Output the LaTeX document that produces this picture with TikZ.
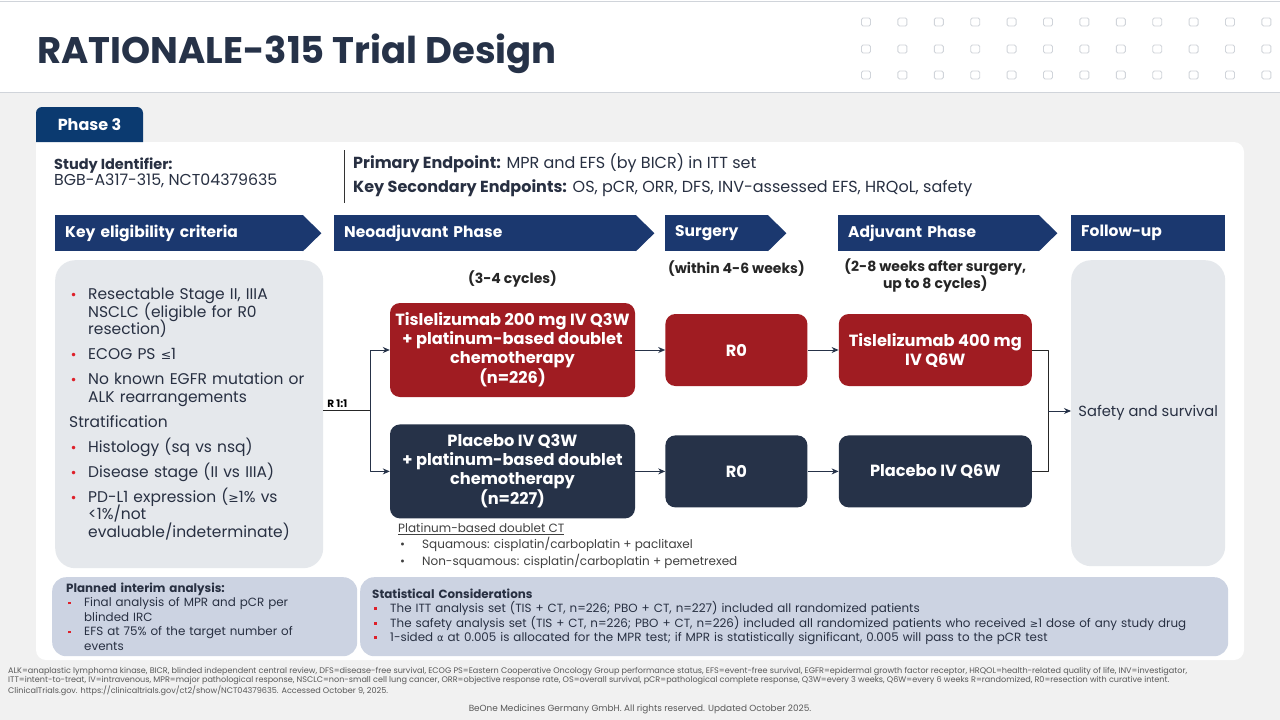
\documentclass[tikz,border=0pt]{standalone}
\usepackage{fontspec}
\setmainfont{Poppins}
\newfontfamily\symfont{DejaVu Sans}
\usetikzlibrary{arrows.meta, positioning, calc, backgrounds}
\definecolor{trialNavy}{RGB}{38,50,72}
\definecolor{trialHead}{RGB}{27,56,111}
\definecolor{trialTab}{RGB}{11,58,112}
\definecolor{trialRed}{RGB}{160,28,34}
\definecolor{trialGrayBg}{RGB}{229,232,236}
\definecolor{trialSlateBg}{RGB}{204,211,226}
\definecolor{trialPageBg}{RGB}{241,241,241}
\definecolor{trialLine}{RGB}{208,212,218}
\definecolor{trialBullet}{RGB}{222,32,42}
\definecolor{trialText}{RGB}{40,48,66}
\definecolor{trialFoot}{RGB}{88,88,88}
\newcommand{\fsize}[2]{\fontsize{#1}{#2}\selectfont}
\newcommand{\tightlines}{\lineskiplimit=-20pt\lineskip=0pt}
\newcommand{\critdot}{\makebox[19pt][l]{\hspace{1pt}\textcolor{trialBullet}{\symfont\fsize{12}{12}•}}}
\newcommand{\critgap}{\hspace*{19pt}}
\newcommand{\statsq}{\makebox[18pt][l]{\hspace{2pt}\textcolor{trialBullet}{\rule[2.6pt]{2.8pt}{2.8pt}}}}
\newcommand{\statgap}{\hspace*{18pt}}
\tikzset{
    design/.style={x=1pt, y=-1pt, >={Stealth[length=7pt, width=6pt]},
                   line join=round, text=trialText},
    title/.style={font=\bfseries\fsize{37}{42}, text=trialNavy, inner sep=0pt},
    tablabel/.style={font=\bfseries\fsize{16}{18}, text=white, inner sep=0pt},
    phasehead/.style={fill=trialHead, text=white, font=\bfseries\fsize{15.5}{18},
                      minimum height=36pt, inner xsep=10pt, inner ysep=0pt,
                      anchor=north west, align=left},
    chevron/.style={phasehead, append after command={\pgfextra{
        \fill[trialHead] ([xshift=-0.6pt]\tikzlastnode.north east)
            -- ([xshift=18pt]\tikzlastnode.east)
            -- ([xshift=-0.6pt]\tikzlastnode.south east) -- cycle;}}},
    armbox/.style={rounded corners=10pt, text=white, font=\bfseries\fsize{16.2}{19},
                   align=center, inner sep=0pt},
    tisarm/.style={armbox, fill=trialRed},
    plaarm/.style={armbox, fill=trialNavy},
    softbox/.style={fill=trialGrayBg, rounded corners=20pt},
    notebox/.style={fill=trialSlateBg, rounded corners=14pt, align=left,
                    font=\fsize{11.9}{14.5}, inner xsep=14pt, inner ysep=0pt,
                    anchor=north west, minimum height=79pt},
    phasenote/.style={font=\bfseries\fsize{14}{17}, text=black!85, align=center,
                      inner sep=0pt},
    rlabel/.style={font=\bfseries\fsize{10.5}{12}, text=black, inner sep=2pt},
    link/.style={->, draw=trialNavy, line width=0.9pt},
    joint/.style={draw=black!85, line width=0.9pt},
}

\begin{document}
\begin{tikzpicture}[design]
\useasboundingbox (0,0) rectangle (1280,720);

% ─── Page and header ────────────────────────────────────────────────────
\fill[trialPageBg] (0,0) rectangle (1280,720);
\fill[white] (0,0) rectangle (1280,92);
\draw[trialLine, line width=1pt] (0,1) -- (1280,1) (0,92) -- (1280,92);
\node[title, anchor=west] (title) at (37,54) {RATIONALE-315 Trial Design};
\foreach \row in {22,49,75}
    \foreach \col in {0,...,11}
        \draw[trialLine, line width=0.9pt, rounded corners=1.5pt]
            ({861.5+36.4*\col},{\row-4}) rectangle ++(9,8);

% ─── Panel and tab ──────────────────────────────────────────────────────
\fill[white, rounded corners=10pt] (36,142) rectangle (1244,660);
\fill[white] (36,142) rectangle (56,162);
\fill[trialTab] (36,142) [rounded corners=6pt] -- (36,107) -- (143,107)
    [sharp corners] -- (143,142) -- cycle;
\node[tablabel] (phase) at (89.5,124.5) {Phase 3};

\node[anchor=west, align=left, inner sep=0pt] (studyid) at (54,173)
    {{\bfseries\fsize{14.5}{20}Study Identifier:}\\
     {\fsize{15.8}{20}BGB-A317-315, NCT04379635}};
\draw[black!80, line width=0.9pt] (344,150) -- (344,203);
\node[anchor=west, align=left, inner sep=0pt, font=\fsize{16}{24}] (endpoints) at (353,175)
    {\textbf{Primary Endpoint:} MPR and EFS (by BICR) in ITT set\\
     \textbf{Key Secondary Endpoints:} OS, pCR, ORR, DFS, INV-assessed EFS, HRQoL, safety};

% ─── Phase headers ──────────────────────────────────────────────────────
\node[chevron, text width=228pt] (hdelig) at (55,215)  {Key eligibility criteria};
\node[chevron, text width=282pt] (hdneo)  at (334,215) {Neoadjuvant Phase};
\node[chevron, text width=83pt]  (hdsurg) at (665,215) {Surgery};
\node[chevron, text width=181pt] (hdadj)  at (838,215) {Adjuvant Phase};
\node[phasehead, text width=134pt] (hdfup) at (1071,215) {Follow-up};

% ─── Eligibility ────────────────────────────────────────────────────────
\node[softbox, anchor=north west, minimum height=308pt, text width=240pt,
      inner xsep=14pt, align=left, font=\fsize{15.5}{17.5}\tightlines] (elig) at (55,260)
    {\critdot Resectable Stage II, IIIA\\
     \critgap NSCLC (eligible for R0\\
     \critgap resection)\\[7.5pt]
     \critdot ECOG PS {\symfont\fsize{12.5}{17.5}≤}1\\[7.5pt]
     \critdot No known EGFR mutation or\\
     \critgap ALK rearrangements\\[7.5pt]
     Stratification\\[7.5pt]
     \critdot Histology (sq vs nsq)\\[7.5pt]
     \critdot Disease stage (II vs IIIA)\\[7.5pt]
     \critdot PD-L1 expression ({\symfont\fsize{12.5}{17.5}≥}1\% vs\\
     \critgap <1\%/not\\
     \critgap evaluable/indeterminate)};

% ─── Treatment arms ─────────────────────────────────────────────────────
\node[tisarm, minimum width=245pt, minimum height=94pt] (tisneo) at (512.5,350)
    {Tislelizumab 200 mg IV Q3W\\+ platinum-based doublet\\chemotherapy\\(n=226)};
\node[plaarm, minimum width=245pt, minimum height=94pt, below=27pt of tisneo] (planeo)
    {Placebo IV Q3W\\+ platinum-based doublet\\chemotherapy\\(n=227)};
\node[tisarm, minimum width=142pt, minimum height=72pt, right=30pt of tisneo] (tissurg) {R0};
\node[plaarm, minimum width=142pt, minimum height=72pt, right=30pt of planeo] (plasurg) {R0};
\node[tisarm, minimum width=193pt, minimum height=72pt, right=31pt of tissurg] (tisadj)
    {Tislelizumab 400 mg\\IV Q6W};
\node[plaarm, minimum width=193pt, minimum height=72pt, right=31pt of plasurg] (plaadj)
    {Placebo IV Q6W};

\node[phasenote, above=15pt of tisneo]  (neonote)  {(3-4 cycles)};
\node[phasenote, above=37pt of tissurg] (surgnote) {(within 4-6 weeks)};
\node[phasenote, above=21pt of tisadj]  (adjnote)  {(2-8 weeks after surgery,\\up to 8 cycles)};

\node[softbox, anchor=north west, minimum width=154pt, minimum height=306pt,
      font=\fsize{14.7}{17}] (follow) at (1071,260) {Safety and survival};

% ─── Connectors ─────────────────────────────────────────────────────────
\coordinate (rsplit) at (370,410);
\draw[joint] (elig.east |- rsplit) -- node[rlabel, above, pos=0.3] {R 1:1} (rsplit);
\draw[link] (rsplit) |- (tisneo.west);
\draw[link] (rsplit) |- (planeo.west);
\draw[link] (tisneo) -- (tissurg);
\draw[link] (planeo) -- (plasurg);
\draw[link] (tissurg) -- (tisadj);
\draw[link] (plasurg) -- (plaadj);
\coordinate (merge) at (1048,411);
\draw[joint] (tisadj.east) -| (merge);
\draw[joint] (plaadj.east) -| (merge);
\draw[link] (merge) -- (follow.west |- merge);

% ─── Notes ──────────────────────────────────────────────────────────────
\node[anchor=north west, align=left, inner sep=0pt, text=black!75,
      font=\fsize{12}{16.5}] (ctnote) at (398,523)
    {\underline{Platinum-based doublet CT}\\
     \makebox[24pt][l]{\hspace{2pt}•}Squamous: cisplatin/carboplatin + paclitaxel\\
     \makebox[24pt][l]{\hspace{2pt}•}Non-squamous: cisplatin/carboplatin + pemetrexed};

\node[notebox, text width=277pt] (interim) at (52,577)
    {\textbf{Planned interim analysis:}\\
     \statsq Final analysis of MPR and pCR per\\
     \statgap blinded IRC\\
     \statsq EFS at 75\% of the target number of\\
     \statgap events};
\node[notebox, text width=844pt, inner xsep=12pt] (stats) at (360,577)
    {\textbf{Statistical Considerations}\\
     \statsq The ITT analysis set (TIS + CT, n=226; PBO + CT, n=227) included all randomized patients\\
     \statsq The safety analysis set (TIS + CT, n=226; PBO + CT, n=226) included all randomized patients who received {\symfont\fsize{10}{14.5}≥}1 dose of any study drug\\
     \statsq 1-sided {\symfont\fsize{10}{14.5}α} at 0.005 is allocated for the MPR test; if MPR is statistically significant, 0.005 will pass to the pCR test};

% ─── Footer ─────────────────────────────────────────────────────────────
\node[anchor=north west, align=left, inner sep=0pt, text=trialFoot,
      font=\fsize{8.1}{9.6}] (abbrev) at (8,667)
    {ALK=anaplastic lymphoma kinase, BICR, blinded independent central review, DFS=disease-free survival, ECOG PS=Eastern Cooperative Oncology Group performance status, EFS=event-free survival, EGFR=epidermal growth factor receptor, HRQOL=health-related quality of life, INV=investigator,\\
     ITT=intent-to-treat, IV=intravenous, MPR=major pathological response, NSCLC=non-small cell lung cancer, ORR=objective response rate, OS=overall survival, pCR=pathological complete response, Q3W=every 3 weeks, Q6W=every 6 weeks R=randomized, R0=resection with curative intent.\\
     ClinicalTrials.gov. https://clinicaltrials.gov/ct2/show/NCT04379635. Accessed October 9, 2025.};
\node[text=trialFoot, font=\fsize{8.9}{10}, inner sep=0pt] (rights) at (640,709)
    {BeOne Medicines Germany GmbH. All rights reserved. Updated October 2025.};

\end{tikzpicture}
\end{document}
